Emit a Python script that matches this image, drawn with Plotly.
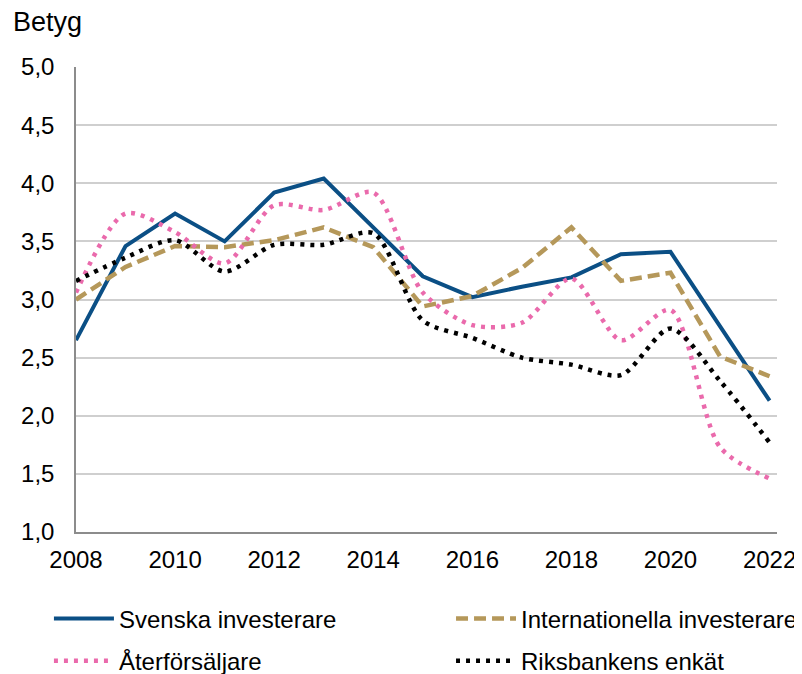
import plotly.graph_objects as go

years = list(range(2008, 2023))
svenska = [2.65, 3.46, 3.74, 3.50, 3.92, 4.04, 3.62, 3.20, 3.02, 3.11, 3.19, 3.39, 3.41, 2.77, 2.13]
internationella = [3.00, 3.28, 3.46, 3.45, 3.51, 3.62, 3.45, 2.94, 3.03, 3.27, 3.62, 3.16, 3.23, 2.51, 2.34]
aterforsaljare = [3.06, 3.74, 3.58, 3.31, 3.81, 3.77, 3.92, 3.06, 2.78, 2.80, 3.18, 2.65, 2.91, 1.73, 1.46]
riksbanken = [3.16, 3.36, 3.51, 3.24, 3.47, 3.47, 3.57, 2.82, 2.67, 2.50, 2.44, 2.35, 2.75, 2.30, 1.77]

x_ticks = [2008, 2010, 2012, 2014, 2016, 2018, 2020, 2022]
y_ticks = [1.0, 1.5, 2.0, 2.5, 3.0, 3.5, 4.0, 4.5, 5.0]

FONT = "Liberation Sans, Arial, sans-serif"

fig = go.Figure()
fig.add_trace(go.Scatter(x=years, y=svenska, mode="lines", name="Svenska investerare",
                         line=dict(color="#0b4f85", width=4), legend="legend", showlegend=True))
fig.add_trace(go.Scatter(x=years, y=internationella, mode="lines", name="Internationella investerare",
                         line=dict(color="#b5985a", width=4.5, dash="12px,6px"), legend="legend2", showlegend=True))
fig.add_trace(go.Scatter(x=years, y=aterforsaljare, mode="lines", name="Återförsäljare",
                         line=dict(color="#ea6aac", width=4.5, dash="4px,6px", shape="spline", smoothing=0.8),
                         legend="legend3", showlegend=True))
fig.add_trace(go.Scatter(x=years, y=riksbanken, mode="lines", name="Riksbankens enkät",
                         line=dict(color="#000000", width=4.5, dash="4px,6px", shape="spline", smoothing=0.8),
                         legend="legend4", showlegend=True))

leg_common = dict(orientation="h", font=dict(family=FONT, size=24, color="#000"),
                  bgcolor="rgba(0,0,0,0)", itemwidth=60,
                  xanchor="left", yanchor="middle")

fig.update_layout(
    width=794, height=666,
    margin=dict(l=68, r=25, t=59, b=142, autoexpand=False),
    plot_bgcolor="white", paper_bgcolor="white",
    separators=", ",
    showlegend=True,
    font=dict(family=FONT, size=24, color="#000"),
    legend=dict(**leg_common, x=-0.0386, y=-0.187),
    legend2=dict(**leg_common, x=0.535, y=-0.187),
    legend3=dict(**leg_common, x=-0.0386, y=-0.278),
    legend4=dict(**leg_common, x=0.535, y=-0.278),
    xaxis=dict(range=[2008, 2022.15], tickvals=x_ticks, ticktext=[str(v) for v in x_ticks],
               showgrid=False, showline=True, linecolor="#8c8c8c", linewidth=1.5,
               ticks="", ticklabelstandoff=5, tickfont=dict(size=24), zeroline=False),
    yaxis=dict(range=[1, 5], tickvals=y_ticks, tickformat=".1f",
               showgrid=True, gridcolor="#cfcfcf", gridwidth=1.5,
               showline=True, linecolor="#8c8c8c", linewidth=1.5,
               ticks="", ticklabelstandoff=15, tickfont=dict(size=24), zeroline=False),
    annotations=[dict(text="Betyg", x=-0.093, xref="paper", xanchor="left",
                      y=1.097, yref="paper", yanchor="middle", showarrow=False,
                      font=dict(family=FONT, size=27, color="#000"))],
)

fig.write_html("out.html")
